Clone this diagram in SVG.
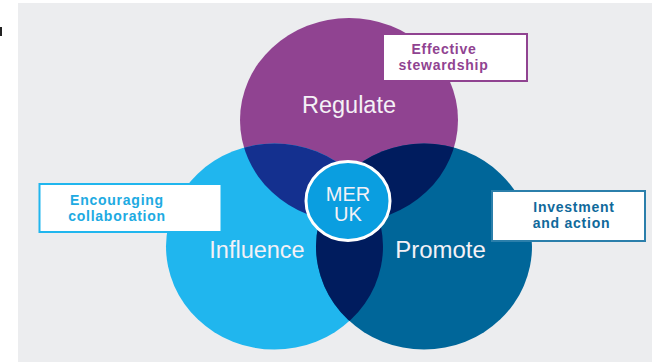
<svg xmlns="http://www.w3.org/2000/svg" width="652" height="362" viewBox="0 0 652 362">
<style>
.big{font-family:"Liberation Sans",Arial,sans-serif;fill:#f4f1f6;text-anchor:middle;font-size:23.500px}
.mer{font-size:20px}
.lab{font-family:"Liberation Sans",Arial,sans-serif;font-weight:bold;font-size:14px;letter-spacing:.75px;text-anchor:middle}
.box{fill:#fff;stroke-width:2}
</style>
<defs>
<clipPath id="cI"><ellipse cx="274.500" cy="246.500" rx="108.500" ry="103"/></clipPath>
<clipPath id="cP"><ellipse cx="424" cy="246.500" rx="108" ry="103"/></clipPath>
</defs>
<rect width="652" height="362" fill="#fff"/>
<rect x="18" y="3" width="634" height="359" fill="#ecedef"/>
<rect x="0" y="27" width="2" height="9" fill="#222"/>
<g id="regulate"><ellipse cx="349" cy="120" rx="109" ry="102" fill="#904391"/><text class="big" x="349" y="112.500">Regulate</text></g>
<g id="influence"><ellipse cx="274.500" cy="246.500" rx="108.500" ry="103" fill="#20b6ee"/><text class="big" x="257" y="257.500">Influence</text></g>
<g id="promote"><ellipse cx="424" cy="246.500" rx="108" ry="103" fill="#006699"/><text class="big" x="440.500" y="257.500" style="font-size:24px">Promote</text></g>
<g id="overlaps">
<ellipse cx="349" cy="120" rx="109" ry="102" fill="#14308f" clip-path="url(#cI)"/>
<ellipse cx="349" cy="120" rx="109" ry="102" fill="#001c5e" clip-path="url(#cP)"/>
<ellipse cx="274.500" cy="246.500" rx="108.500" ry="103" fill="#001c5e" clip-path="url(#cP)"/>
</g>
<g id="mer-uk"><ellipse cx="348" cy="201" rx="42" ry="39.500" fill="#0a9ee0" stroke="#fff" stroke-width="3"/>
<text class="big mer"><tspan x="348" y="200.500">MER</tspan><tspan x="348" y="221">UK</tspan></text></g>
<g id="effective"><rect class="box" x="383" y="34" width="144" height="47" stroke="#904391"/>
<text class="lab" fill="#904391" x="444" y="54">Effective</text><text class="lab" fill="#904391" x="443.500" y="69.500">stewardship</text></g>
<g id="encouraging"><rect class="box" x="39.500" y="184" width="182" height="48" stroke="#20b6ee"/>
<text class="lab" fill="#20aae2" x="117" y="204.500">Encouraging</text><text class="lab" fill="#20aae2" x="117" y="220.500">collaboration</text></g>
<g id="investment"><rect class="box" x="492" y="191" width="153" height="50" stroke="#2b7fab"/>
<text class="lab" fill="#10699b" x="574" y="212">Investment</text><text class="lab" fill="#10699b" x="571.500" y="228">and action</text></g>
</svg>
